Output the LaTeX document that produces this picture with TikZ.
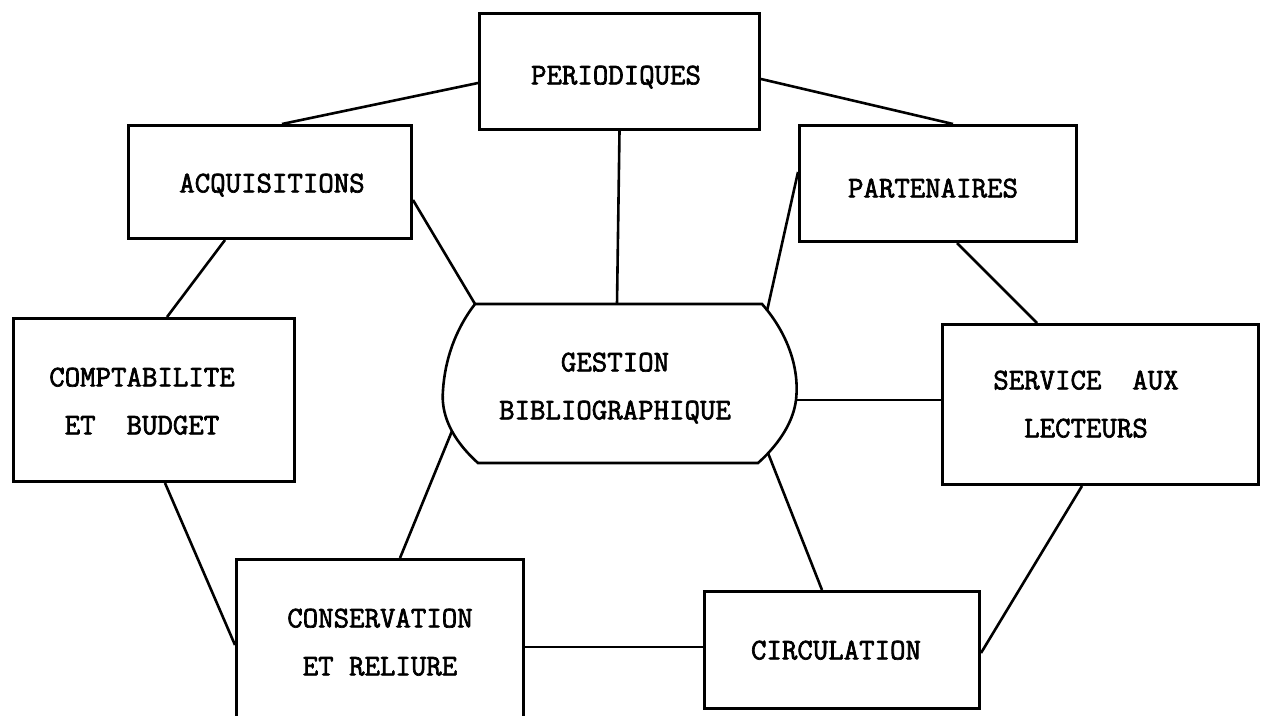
\documentclass[tikz,border=0pt]{standalone}
\usepackage{fontspec}
\newfontfamily\twfont{Latin Modern Mono}[FakeBold=2.2]
\usetikzlibrary{calc}
\begin{document}
\begin{tikzpicture}[x=1pt,y=-1pt, line width=2.6pt, line join=miter,
  box/.style={draw, rectangle, inner sep=0pt, anchor=north west, line width=3pt},
  lbl/.style={font=\fontsize{30}{48}\selectfont\twfont, align=center, inner sep=0pt, text depth=0pt}]
\useasboundingbox (0,0) rectangle (1261,715);
% boxes
\node[box, minimum width=280pt, minimum height=116pt] (per) at (478,12) {};
\node[box, minimum width=283pt, minimum height=113pt] (acq) at (127,124) {};
\node[box, minimum width=277pt, minimum height=116pt] (par) at (798,124) {};
\node[box, minimum width=281pt, minimum height=163pt] (cpt) at (12,317) {};
\node[box, minimum width=316pt, minimum height=160pt] (srv) at (941,323) {};
\node[box, minimum width=287pt, minimum height=170pt] (con) at (235,558) {};
\node[box, minimum width=275pt, minimum height=117pt] (cir) at (703,590) {};
% labels
\node[lbl] (perT) at (616,75) {PERIODIQUES};
\node[lbl] (acqT) at (272,183) {ACQUISITIONS};
\node[lbl] (parT) at (933,188) {PARTENAIRES};
\node[lbl] (cptT) at (142,401) {COMPTABILITE\\ET\ \ BUDGET};
\node[lbl] (srvT) at (1086,404) {SERVICE\ \ AUX\\LECTEURS};
\node[lbl] (conT) at (380,642) {CONSERVATION\\ET RELIURE};
\node[lbl] (cirT) at (836,650) {CIRCULATION};
\node[lbl] (gb) at (615,386) {GESTION\\BIBLIOGRAPHIQUE};
% central shape
\draw (475,304) -- (762,304)
  .. controls (785,330) and (800,365) .. (796,400)
  .. controls (793,425) and (775,448) .. (758,463)
  -- (478,463)
  .. controls (458,445) and (440,420) .. (443,390)
  .. controls (445,360) and (455,330) .. (475,304) -- cycle;
\coordinate (gbtop) at (617,304);
\coordinate (gbtl) at (475,304);
\coordinate (gbtr) at (767,311);
\coordinate (gbr) at (796,400);
\coordinate (gbbl) at (452,431);
\coordinate (gbbr) at (768,453);
% connectors
\draw ($(per.north west)+(0,71)$) -- ($(acq.north west)+(155,0)$);
\draw ($(per.north east)+(0,67)$) -- ($(par.north west)+(155,0)$);
\draw (per.south) -- (gbtop);
\draw ($(acq.north east)+(0,76)$) -- (gbtl);
\draw ($(par.north west)+(0,48)$) -- (gbtr);
\draw ($(acq.south west)+(98,0)$) -- ($(cpt.north west)+(155,0)$);
\draw ($(par.south west)+(159,0)$) -- ($(srv.north west)+(96,0)$);
\draw (gbr) -- ($(srv.north west)+(0,77)$);
\draw ($(cpt.south west)+(153,0)$) -- ($(con.north west)+(0,87)$);
\draw (gbbl) -- ($(con.north west)+(165,0)$);
\draw (gbbr) -- ($(cir.north west)+(119,0)$);
\draw ($(con.north east)+(0,89)$) -- ($(cir.north west)+(0,57)$);
\draw ($(srv.south west)+(141,0)$) -- ($(cir.north east)+(0,63)$);
\end{tikzpicture}
\end{document}
